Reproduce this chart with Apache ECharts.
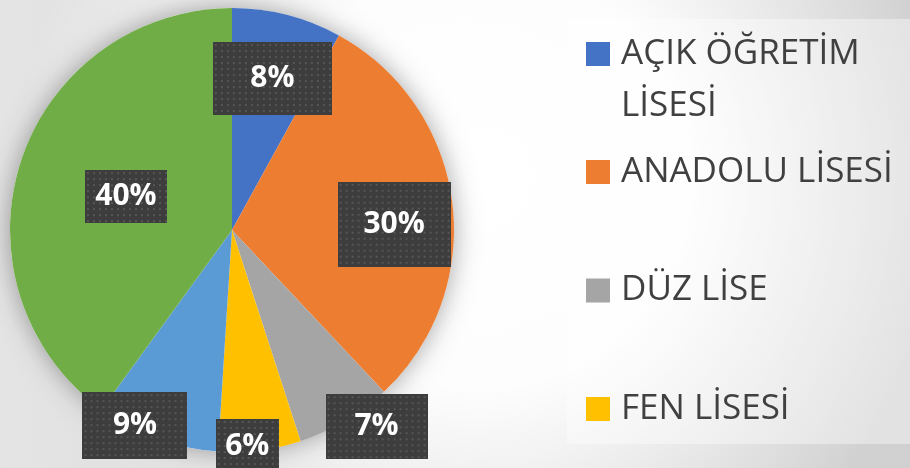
<!DOCTYPE html>
<html>
<head>
<meta charset="utf-8">
<script src="https://cdn.jsdelivr.net/npm/echarts@6/dist/echarts.min.js"></script>
<style>
html,body{margin:0;padding:0;}
#main{width:910px;height:468px;}
</style>
</head>
<body>
<div id="main"></div>
<script>
// okul türü dağılımı
var categories = ['AÇIK ÖĞRETİM LİSESİ', 'ANADOLU LİSESİ', 'DÜZ LİSE', 'FEN LİSESİ', 'MESLEK LİSESİ', 'İMAM HATİP LİSESİ'];
var values = [8, 30, 7, 6, 9, 40];
var colors = ['#4472C4', '#ED7D31', '#A5A5A5', '#FFC000', '#5B9BD5', '#70AD47'];

// etiket kutuları (genişlik, yükseklik) ve kaydırma
var boxSize = [[119, 73], [113, 85], [102, 65], [63, 55], [105, 67], [82, 53]];
var shift = [[12, -41], [49, 8.5], [86.5, 98.6], [1, 103.4], [-58.4, 88.4], [2.4, 1.9]];

function dots(w, h) {
    var c = document.createElement('canvas');
    c.width = w; c.height = h;
    var ctx = c.getContext('2d');
    ctx.fillStyle = '#3d3d3d';
    ctx.fillRect(0, 0, w, h);
    ctx.fillStyle = '#565656';
    for (var y = 2; y < h; y += 6) {
        for (var x = 2; x < w; x += 6) {
            ctx.fillRect(x, y, 2, 2);
        }
    }
    return c;
}

var pieData = categories.map(function (name, i) {
    var w = boxSize[i][0], h = boxSize[i][1];
    return {
        name: name,
        value: values[i],
        itemStyle: {color: colors[i]},
        label: {
            width: w,
            padding: [(h - 30) / 2, 0],
            backgroundColor: {image: dots(w, h)}
        }
    };
});

var myChart = echarts.init(document.getElementById('main'));

var legendText = {
    color: '#404040',
    fontFamily: 'Open Sans',
    fontSize: 35,
    lineHeight: 52,
    padding: [0, 0, 0, 6]
};

option = {
    backgroundColor: {
        type: 'linear', x: 0, y: 0, x2: 1, y2: 0,
        colorStops: [{offset: 0, color: '#e4e4e4'}, {offset: 1, color: '#d0d0d0'}]
    },
    graphic: [{
        type: 'rect',
        z: -2,
        silent: true,
        shape: {x: 0, y: 0, width: 910, height: 468},
        style: {
            fill: {
                type: 'radial', x: 0.53, y: 0.38, r: 1.0,
                colorStops: [
                    {offset: 0, color: 'rgba(255,255,255,1)'},
                    {offset: 0.45, color: 'rgba(255,255,255,0.95)'},
                    {offset: 1, color: 'rgba(255,255,255,0)'}
                ]
            }
        }
    }, {
        type: 'rect',
        z: -1,
        silent: true,
        shape: {x: 567, y: 19, width: 343, height: 425},
        style: {fill: 'rgba(255,255,255,0.38)'}
    }],
    legend: [{
        orient: 'vertical',
        left: 586,
        top: -24,
        padding: 0,
        icon: 'rect',
        itemWidth: 24,
        itemHeight: 24,
        selectedMode: false,
        data: [categories[0]],
        formatter: function (name) {
            return '\n' + name.replace(' LİSESİ', '\nLİSESİ');
        },
        textStyle: legendText
    }, {
        orient: 'vertical',
        left: 586,
        top: 146,
        padding: 0,
        icon: 'rect',
        itemWidth: 24,
        itemHeight: 24,
        itemGap: 66.5,
        selectedMode: false,
        data: categories.slice(1, 4),
        textStyle: legendText
    }],
    series: [{
        type: 'pie',
        silent: true,
        center: [232, 230],
        radius: 222,
        z: 1,
        label: {show: false},
        labelLine: {show: false},
        itemStyle: {color: '#ffffff', shadowBlur: 26, shadowColor: 'rgba(0,0,0,0.35)'},
        data: [{name: '', value: 1}]
    }, {
        type: 'pie',
        center: [232, 230],
        radius: 222,
        startAngle: 90,
        z: 2,
        avoidLabelOverlap: false,
        silent: true,
        itemStyle: {borderWidth: 0},
        label: {
            position: 'inside',
            formatter: function (p) { return Math.round(p.percent) + '%'; },
            color: '#ffffff',
            fontFamily: 'Open Sans',
            fontWeight: 'bold',
            fontSize: 30,
            lineHeight: 30,
            align: 'center',
            shadowBlur: 6,
            shadowOffsetX: 3,
            shadowOffsetY: 3,
            shadowColor: 'rgba(0,0,0,0.35)'
        },
        labelLine: {show: false},
        labelLayout: function (p) {
            return {dx: shift[p.dataIndex][0], dy: shift[p.dataIndex][1]};
        },
        data: pieData
    }]
};
myChart.setOption(option);
</script>
</body>
</html>
